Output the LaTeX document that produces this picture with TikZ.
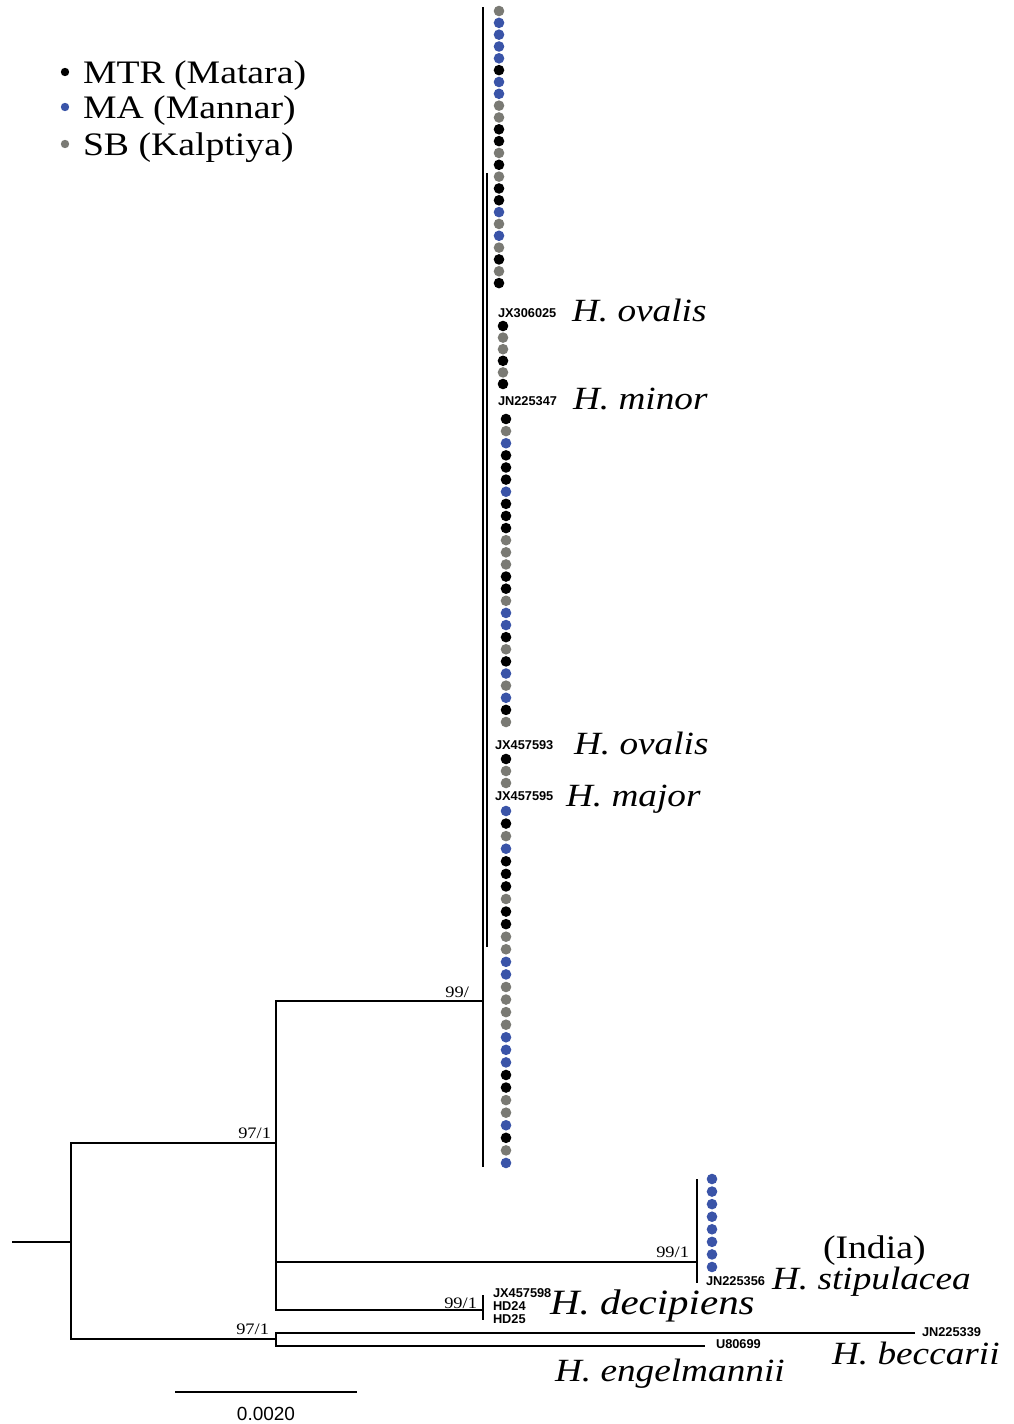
\documentclass[tikz,border=0pt]{standalone}
\usepackage{fontspec}
\setmainfont{Liberation Serif}
\newfontfamily\spfont[FakeStretch=1.15]{Liberation Serif}
\newfontfamily\accfont{Liberation Sans}
\usepackage{tikz}
\definecolor{mtr}{RGB}{0,0,0}
\definecolor{ma}{RGB}{58,84,168}
\definecolor{sb}{RGB}{122,122,116}

\begin{document}
\begin{tikzpicture}[
			x=0.5pt, y=-0.5pt,
			line width=1pt,
			species/.style={font=\spfont\itshape\fontsize{16.2}{18}\selectfont, anchor=base west, inner sep=0pt},
			legend/.style={font=\spfont\fontsize{16.4}{18}\selectfont, anchor=base west, inner sep=0pt},
			acc/.style={font=\accfont\bfseries\fontsize{6.4}{7}\selectfont, anchor=west, inner sep=0pt},
			boot/.style={font=\spfont\fontsize{8}{9}\selectfont, anchor=base east, inner sep=0pt}
			]
			\useasboundingbox (0,0) rectangle (1013,1424);
			
			% Legend
			\fill[mtr] (65,72) circle[radius=2.1pt];
			\fill[ma] (65,107) circle[radius=2.1pt];
			\fill[sb] (65,144) circle[radius=2.1pt];
			\node[legend] (legmtr) at (82,83) {MTR (Matara)};
			\node[legend] (legma) at (82,118) {MA (Mannar)};
			\node[legend] (legsb) at (82,155) {SB (Kalptiya)};
			
			% Tree nodes
			\coordinate (root) at (12,1242);
			\coordinate (n0) at (71,1242);
			\coordinate (n1) at (276,1143);
			\coordinate (n2) at (483,1001);
			\coordinate (n3) at (697,1262);
			\coordinate (n4) at (483,1310);
			\coordinate (n5) at (276,1339);
			\coordinate (t1) at (915,1333);
			\coordinate (t2) at (705,1346);
			
			% Branches
			\draw (root) -- (n0);
			\draw (n1) -| (n0) |- (n5);
			\draw (n2) -| (n1) |- (n4);
			\draw (n1 |- n3) -- (n3);
			\draw (t1) -| (n5) |- (t2);
			
			% Clades
			\draw (483,7) -- (483,1167);
			\draw (487,173) -- (487,947);
			\draw (697,1179) -- (697,1283);
			\draw (483,1295) -- (483,1320);
			
			% Sri Lankan samples
			\foreach \c [count=\i] in {sb,ma,ma,ma,ma,mtr,ma,ma,sb,sb,mtr,mtr,sb,mtr,sb,mtr,mtr,ma,sb,ma,sb,mtr,sb,mtr}
				\fill[\c] (499,{11+(\i-1)*11.83}) circle[radius=2.65pt];
			\foreach \c [count=\i] in {mtr,sb,sb,mtr,sb,mtr}
				\fill[\c] (503,{326+(\i-1)*11.6}) circle[radius=2.65pt];
			\foreach \c [count=\i] in {mtr,sb,ma,mtr,mtr,mtr,ma,mtr,mtr,mtr,sb,sb,sb,mtr,mtr,sb,ma,ma,mtr,sb,mtr,ma,sb,ma,mtr,sb}
				\fill[\c] (506,{419+(\i-1)*12.12}) circle[radius=2.65pt];
			\foreach \c [count=\i] in {mtr,sb,sb}
				\fill[\c] (506,{759+(\i-1)*12}) circle[radius=2.65pt];
			\foreach \c [count=\i] in {ma,mtr,sb,ma,mtr,mtr,mtr,sb,mtr,mtr,sb,sb,ma,ma,sb,sb,sb,sb,ma,ma,ma,mtr,mtr,sb,sb,ma,mtr,sb,ma}
				\fill[\c] (506,{811+(\i-1)*12.57}) circle[radius=2.65pt];
			\foreach \i in {0,...,7}
				\fill[ma] (712,{1179+\i*12.57}) circle[radius=2.65pt];
			
			% Accessions
			\node[acc] (jx306025) at (497,313) {JX306025};
			\node[acc] (jn225347) at (497,401) {JN225347};
			\node[acc] (jx457593) at (494,745) {JX457593};
			\node[acc] (jx457595) at (494,796) {JX457595};
			\node[acc] (jn225356) at (705,1281) {JN225356};
			\node[acc] (jx457598) at (492,1293) {JX457598};
			\node[acc] (hd24) at (492,1306) {HD24};
			\node[acc] (hd25) at (492,1319) {HD25};
			\node[acc] (jn225339) at (921,1332) {JN225339};
			\node[acc] (u80699) at (715,1344) {U80699};
			
			% Species
			\node[species] (ovalisa) at (571,321) {H. ovalis};
			\node[species] (minor) at (572,409) {H. minor};
			\node[species] (ovalisb) at (573,754) {H. ovalis};
			\node[species] (major) at (565,806) {H. major};
			\node[legend] (india) at (822,1258) {(India)};
			\node[species] (stipulacea) at (771,1289) {H. stipulacea};
			\node[species, font=\spfont\itshape\fontsize{17.8}{19}\selectfont] (decipiens) at (549,1314) {H. decipiens};
			\node[species] (beccarii) at (831,1364) {H. beccarii};
			\node[species] (engelmannii) at (554,1381) {H. engelmannii};
			
			% Support values
			\node[boot] (bsa) at (272,1138) {97/1};
			\node[boot] (bsb) at (470,997) {99/};
			\node[boot] (bsc) at (690,1257) {99/1};
			\node[boot] (bsd) at (478,1308) {99/1};
			\node[boot] (bse) at (270,1334) {97/1};
			
			% Scale bar
			\coordinate (sbl) at (175,1392);
			\coordinate (sbr) at (357,1392);
			\draw (sbl) -- (sbr);
			\node[font=\accfont\fontsize{9.5}{11}\selectfont, inner sep=0pt] (scale) at (266,1414) {0.0020};
		\end{tikzpicture}
\end{document}
